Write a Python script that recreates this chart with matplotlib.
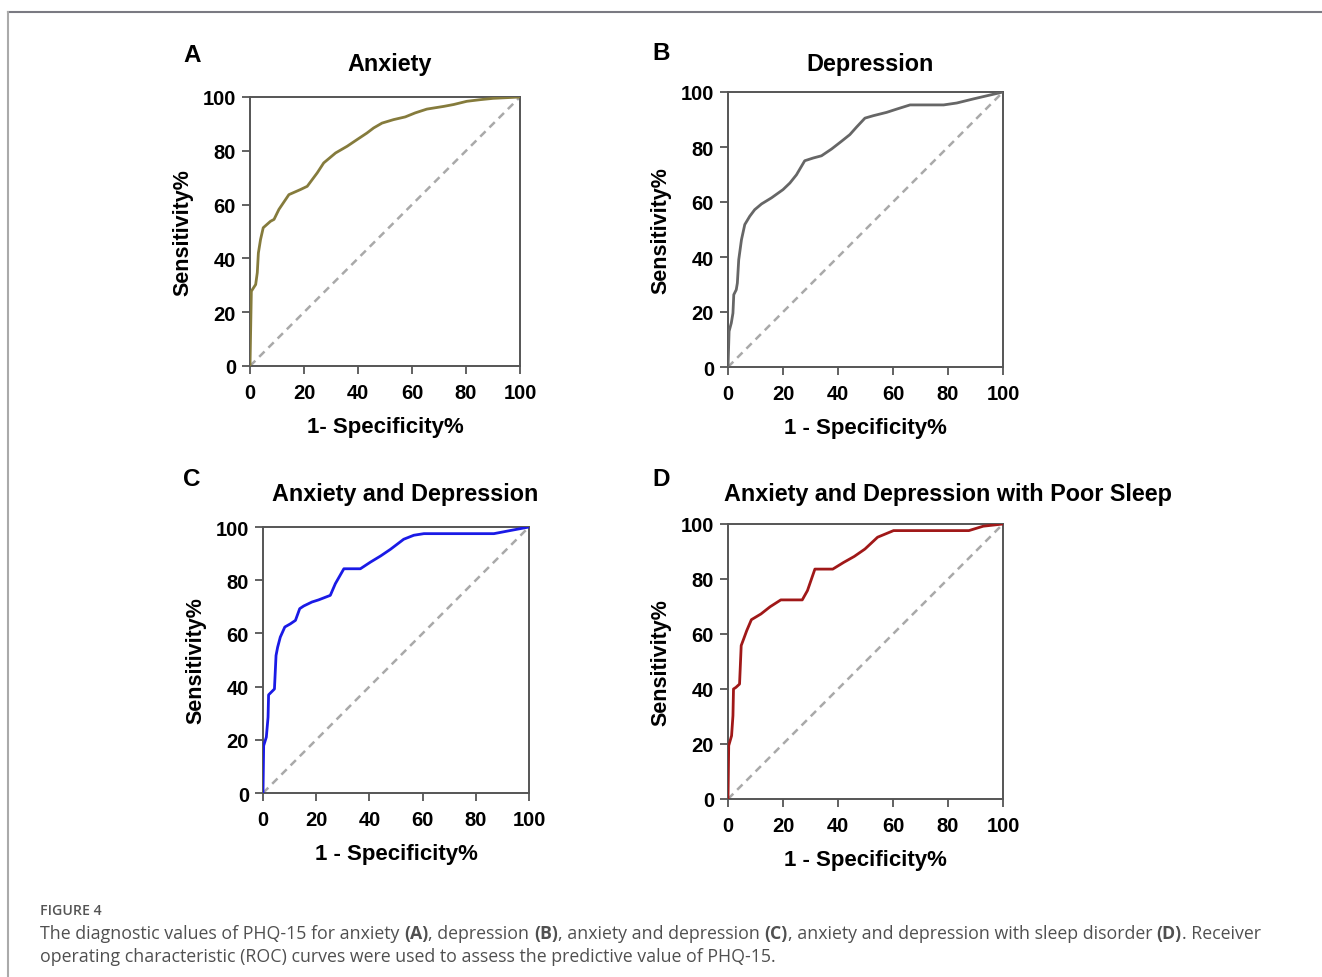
import matplotlib
matplotlib.use("Agg")
import matplotlib.pyplot as plt
from matplotlib.lines import Line2D

W, H = 1322, 978

# ---------------- data ----------------
fpr_a = [0, 0.5, 2.1, 2.7, 3.1, 3.9, 4.9, 7.6, 8.9, 10.7, 14.4, 18.7, 21.2, 24.9, 27.3, 31.7,
         36.0, 39.7, 43.3, 45.8, 48.9, 53.2, 57.5, 61.2, 65.5, 71.7, 75.4, 80.3, 85.2, 90.1, 100]
tpr_a = [0, 27.8, 30.3, 34.7, 42.0, 47.0, 51.4, 53.8, 54.5, 58.2, 63.7, 65.6, 66.8, 71.8, 75.5, 79.2,
         81.7, 84.2, 86.6, 88.5, 90.3, 91.6, 92.6, 94.1, 95.5, 96.5, 97.2, 98.4, 99.0, 99.5, 100]

fpr_b = [0, 0.4, 1.2, 1.8, 2.1, 3.0, 3.4, 3.9, 4.9, 6.1, 7.9, 9.7, 12.2, 15.8, 20.0, 22.5, 24.9,
         27.9, 31.0, 34.0, 37.7, 41.3, 44.3, 46.8, 49.8, 52.9, 57.7, 61.4, 66.2, 72.3, 78.4, 83.2, 89.3, 100]
tpr_b = [0, 13.0, 16.0, 19.6, 26.3, 28.1, 30.5, 39.0, 46.3, 51.8, 54.8, 57.2, 59.3, 61.5, 64.5, 66.9, 69.9,
         75.0, 76.0, 76.8, 79.3, 82.1, 84.5, 87.3, 90.5, 91.4, 92.6, 93.8, 95.3, 95.3, 95.3, 96.0, 97.5, 100]

fpr_c = [0, 0.25, 1.25, 1.9, 2.1, 3.1, 4.3, 4.9, 5.5, 6.5, 8.2, 10.3, 12.2, 13.8, 15.3, 18.4, 20.9,
         25.3, 27.2, 30.4, 34.1, 36.6, 40.4, 44.2, 47.9, 52.9, 56.7, 60.5, 65.5, 74.3, 86.8, 93.1, 100]
tpr_c = [0, 17.8, 21.0, 28.5, 36.9, 37.9, 39.1, 51.7, 54.8, 58.6, 62.4, 63.6, 64.9, 69.3, 70.3, 71.8, 72.6,
         74.3, 78.7, 84.3, 84.3, 84.3, 86.8, 89.1, 91.6, 95.4, 96.9, 97.5, 97.5, 97.5, 97.5, 98.7, 100]

fpr_d = [0, 0.26, 1.3, 1.8, 2.0, 2.9, 4.2, 4.8, 5.7, 6.8, 8.5, 12.0, 15.3, 19.2, 27.0, 28.9, 31.6,
         38.1, 42.0, 45.9, 49.8, 54.4, 60.2, 66.8, 78.5, 87.6, 92.8, 100]
tpr_d = [0, 19.4, 23.0, 30.3, 40.0, 40.6, 41.8, 55.8, 58.2, 61.2, 65.2, 67.3, 69.9, 72.4, 72.4, 75.8, 83.6,
         83.6, 86.0, 88.2, 90.9, 95.2, 97.6, 97.6, 97.6, 97.6, 99.2, 100]

ticks = [0, 20, 40, 60, 80, 100]
tick_labels = ["0", "20", "40", "60", "80", "100"]

panels = [
    dict(letter="A", title="Anxiety", xlabel="1- Specificity%", x=fpr_a, y=tpr_a, color="#857b3c",
         box=(250, 98, 520, 367), title_xy=(390, 64), letter_xy=(192, 55)),
    dict(letter="B", title="Depression", xlabel="1 - Specificity%", x=fpr_b, y=tpr_b, color="#666666",
         box=(728, 93, 1003, 368), title_xy=(870, 64), letter_xy=(661, 54)),
    dict(letter="C", title="Anxiety and Depression", xlabel="1 - Specificity%", x=fpr_c, y=tpr_c, color="#1a1ae6",
         box=(263, 528, 529, 794), title_xy=(405, 495), letter_xy=(192, 480)),
    dict(letter="D", title="Anxiety and Depression with Poor Sleep", xlabel="1 - Specificity%", x=fpr_d, y=tpr_d,
         color="#a01818", box=(728, 525, 1003, 800), title_xy=(948, 495), letter_xy=(661, 480)),
]

plt.rcParams['font.family'] = ['Liberation Sans', 'DejaVu Sans']

fig = plt.figure(figsize=(W / 100, H / 100), dpi=100)
fig.patch.set_facecolor("white")

def fx(px):
    return px / W

def fy(py):
    return 1 - py / H

for p in panels:
    l, t, r, b = p["box"]
    ax = fig.add_axes([fx(l), fy(b), (r - l) / W, (b - t) / H])
    ax.plot([0, 100], [0, 100], ls=(0, (3, 2.2)), color="#a9a9a9", lw=1.8, zorder=1)
    ax.plot(p["x"], p["y"], color=p["color"], lw=2.0, zorder=3, solid_joinstyle="round")
    ax.set_xlim(0, 100)
    ax.set_ylim(0, 100)
    ax.set_xticks(ticks)
    ax.set_yticks(ticks)
    ax.set_xticklabels(tick_labels, fontsize=14.5, fontweight="bold")
    ax.set_yticklabels(tick_labels, fontsize=14.5, fontweight="bold")
    ax.tick_params(direction="out", length=6, width=1.3, color="#555555", pad=4)
    ax.tick_params(axis="x", pad=6)
    for s in ax.spines.values():
        s.set_color("#555555")
        s.set_linewidth(1.4)
    ax.set_ylabel("Sensitivity%", fontsize=15.5, fontweight="bold", labelpad=7)
    ax.set_xlabel(p["xlabel"], fontsize=16, fontweight="bold", labelpad=10.5)
    fig.text(fx(p["title_xy"][0]), fy(p["title_xy"][1]), p["title"], fontsize=16.8, fontweight="bold",
             ha="center", va="center")
    fig.text(fx(p["letter_xy"][0]), fy(p["letter_xy"][1]), p["letter"], fontsize=17.5, fontweight="bold",
             ha="center", va="center")

# frame lines
fig.add_artist(Line2D([fx(8), 1], [fy(12.5), fy(12.5)], color="#7a7a82", lw=1.5, transform=fig.transFigure))
fig.add_artist(Line2D([fx(8), fx(8)], [fy(12.5), 0], color="#aaaaaa", lw=1.5, transform=fig.transFigure))

# caption
cap_font = ['Open Sans', 'DejaVu Sans']
fig.text(fx(40), fy(911), "FIGURE 4", fontsize=10.2, color="#555555", fontweight="semibold",
         family=cap_font, va="center", ha="left")

fig.canvas.draw()
renderer = fig.canvas.get_renderer()

def write_line(pieces, x0, y0, size=12.8):
    x = x0
    for txt, bold in pieces:
        t = fig.text(fx(x), fy(y0), txt, fontsize=size, color="#505050", family=cap_font,
                     fontweight="bold" if bold else "normal", va="center", ha="left")
        bb = t.get_window_extent(renderer)
        x += bb.width

line1 = [("The diagnostic values of PHQ-15 for anxiety ", False), ("(A)", True), (", depression ", False),
         ("(B)", True), (", anxiety and depression ", False), ("(C)", True),
         (", anxiety and depression with sleep disorder ", False), ("(D)", True), (". Receiver", False)]
line2 = [("operating characteristic (ROC) curves were used to assess the predictive value of PHQ-15.", False)]
write_line(line1, 40, 934)
write_line(line2, 40, 957)

fig.savefig("out.png", dpi=100, facecolor="white")
